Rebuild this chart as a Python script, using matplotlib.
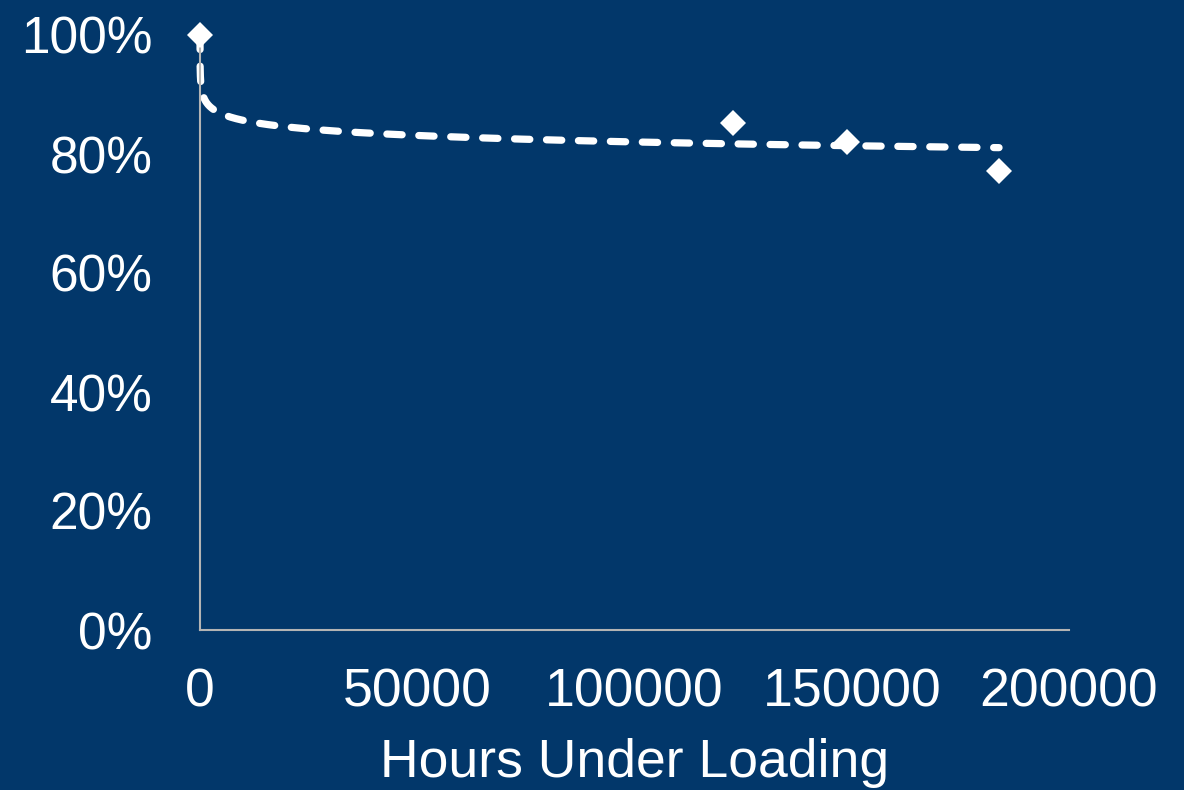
import numpy as np
import matplotlib
matplotlib.use("Agg")
import matplotlib.pyplot as plt
from matplotlib.ticker import PercentFormatter

plt.rcParams['font.family'] = ['Liberation Sans', 'DejaVu Sans']
plt.rcParams['lines.scale_dashes'] = False

# Measured retention versus time under load
hours = [0, 122650, 148900, 183900]
retention = [1.00, 0.852, 0.820, 0.771]

x_ticks = [0, 50000, 100000, 150000, 200000]
y_ticks = [0.0, 0.2, 0.4, 0.6, 0.8, 1.0]

bg = '#02376A'
fg = 'white'
axis_grey = '#B4B4B4'

fig = plt.figure(figsize=(11.84, 7.90), dpi=100, facecolor=bg)
ax = fig.add_axes([200/1184, 1 - 630/790, 869/1184, 595/790])
ax.set_facecolor(bg)

# Logarithmic trend line fitted to the measurements
hx = np.maximum(np.asarray(hours, dtype=float), 1.0)
slope, intercept = np.polyfit(np.log(hx), retention, 1)
xt = np.geomspace(hx.min(), hx.max(), 600)
ax.plot(xt, intercept + slope * np.log(xt), color=fg, lw=5.2,
        dashes=(11, 12), dash_capstyle='round', solid_capstyle='round',
        clip_on=False, zorder=2)

ax.plot(hours, retention, linestyle='none', marker='D', ms=13.5,
        color=fg, mew=0, clip_on=False, zorder=3)

ax.set_xlim(0, 200000)
ax.set_ylim(0, 1.0)
ax.set_xticks(x_ticks)
ax.set_xticklabels([str(v) for v in x_ticks])
ax.set_yticks(y_ticks)
ax.yaxis.set_major_formatter(PercentFormatter(1.0, decimals=0))

for side in ('top', 'right'):
    ax.spines[side].set_visible(False)
for side in ('left', 'bottom'):
    ax.spines[side].set_color(axis_grey)
    ax.spines[side].set_linewidth(1.5)

ax.tick_params(axis='y', length=0, colors=fg, labelsize=37, pad=34)
ax.tick_params(axis='x', length=0, colors=fg, labelsize=38.5, pad=27)

ax.set_xlabel('Hours Under Loading', color=fg, fontsize=38.5, labelpad=15)

fig.savefig('out.png', dpi=100, facecolor=bg)
